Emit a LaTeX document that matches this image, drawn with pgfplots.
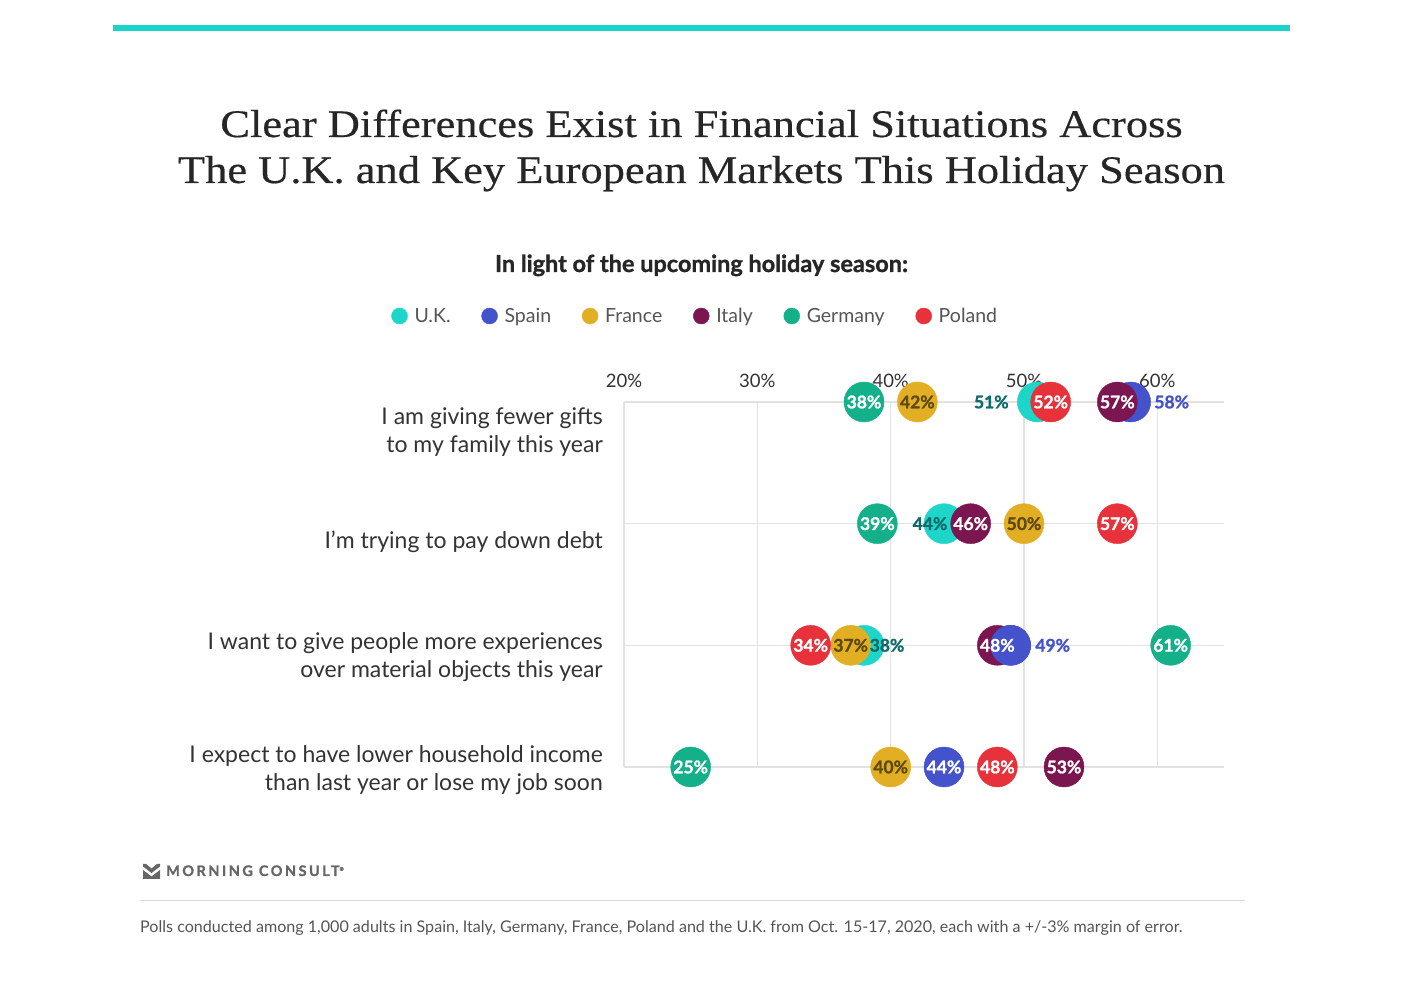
\documentclass[border=0pt]{standalone}
\usepackage{pgfplots}
\pgfplotsset{compat=1.18}
\usepackage{pgfplotstable}
\usepackage{fontspec}
\setmainfont{Lato}
\newfontfamily\titlefont{Liberation Serif}[FakeStretch=1.14, FakeBold=0.4]
\newfontfamily\heavy{Lato}[BoldFeatures={FakeBold=1.2}]
\definecolor{ukc}{HTML}{1DD5C8}
\definecolor{esc}{HTML}{4452CC}
\definecolor{frc}{HTML}{E2AF24}
\definecolor{itc}{HTML}{7C1650}
\definecolor{dec}{HTML}{13B08A}
\definecolor{plc}{HTML}{E7323C}
\definecolor{uklab}{HTML}{0E6C6A}
\definecolor{frlab}{HTML}{5E4A0E}
\definecolor{txt}{HTML}{333333}
\definecolor{legtxt}{HTML}{555555}
\definecolor{gridc}{HTML}{E2E2E2}
\definecolor{topbar}{HTML}{1CD3C9}
\definecolor{logoc}{HTML}{666666}

% y: 1 = fewer gifts, 2 = pay down debt, 3 = experiences, 4 = lower income
\pgfplotstableread{
x y dx
51 1 -46
44 2 -14
38 3 23
}\dataUK
\pgfplotstableread{
x y dx
58 1 41
49 3 42
44 4 0
}\dataES
\pgfplotstableread{
x y
42 1
50 2
37 3
40 4
}\dataFR
\pgfplotstableread{
x y
57 1
46 2
48 3
53 4
}\dataIT
\pgfplotstableread{
x y
38 1
39 2
61 3
25 4
}\dataDE
\pgfplotstableread{
x y
52 1
57 2
34 3
48 4
}\dataPL

\pgfplotsset{
  /pgf/number format/assume math mode=true,
  circ/.style={only marks, mark=*, mark size=20pt,
    mark options={draw=none, fill=#1}, color=#1,
    legend image code/.code={\draw[##1, mark size=8pt] plot coordinates {(0pt,0pt)};}},
  lab/.style={draw=none, mark=none, forget plot, point meta=x,
    nodes near coords={\pgfmathprintnumber{\pgfplotspointmeta}\%},
    every node near coord/.append style={anchor=center, text=#1, inner sep=0pt,
      font=\heavy\bfseries\fontsize{17.5}{18}\selectfont}},
  shiftlab/.style={visualization depends on={\thisrow{dx} \as \dx},
    every node near coord/.append style={xshift=\dx}},
}

\begin{document}
\begin{tikzpicture}[x=1pt,y=1pt]
\fill[white] (0,0) rectangle (1403,992);
\useasboundingbox (0,0) rectangle (1403,992);
\fill[topbar] (113,961) rectangle (1290,967);
\node[anchor=base, font=\titlefont\fontsize{39}{39}\selectfont, text=black!85] at (701.5,855) {Clear Differences Exist in Financial Situations Across};
\node[anchor=base, font=\titlefont\fontsize{39}{39}\selectfont, text=black!85] at (701.5,809) {The U.K. and Key European Markets This Holiday Season};
\node[anchor=base, font=\heavy\bfseries\fontsize{23.5}{24}\selectfont, text=black!85] at (701.5,720) {In light of the upcoming holiday season:};

\begin{axis}[
  at={(624pt,225pt)}, anchor=south west, scale only axis,
  width=600pt, height=365pt,
  xmin=20, xmax=65, ymin=1, ymax=4, y dir=reverse, clip=false,
  axis line style={draw=none}, major tick length=0pt,
  xtick={20,30,40,50,60}, ytick={1,2,3,4}, yticklabels={},
  xmajorgrids, ymajorgrids, grid style={draw=gridc, line width=1.2pt},
  xticklabel pos=right,
  xticklabel={\pgfmathprintnumber{\tick}\%},
  xticklabel style={font=\fontsize{18.5}{19}\selectfont, text=txt, yshift=11pt},
  legend columns=6,
  legend style={draw=none, fill=none, at={(0.123,1.2356)}, anchor=center,
    font=\color{legtxt}\fontsize{19.5}{20}\selectfont,
    /tikz/every even column/.append style={column sep=24pt},
    nodes={inner xsep=7pt}},
]
\addplot[circ=ukc] table[x=x,y=y] {\dataUK}; \addlegendentry{U.K.}
\addplot[circ=esc] table[x=x,y=y] {\dataES}; \addlegendentry{Spain}
\addplot[circ=frc] table[x=x,y=y] {\dataFR}; \addlegendentry{France}
\addplot[circ=itc] table[x=x,y=y] {\dataIT}; \addlegendentry{Italy}
\addplot[circ=dec] table[x=x,y=y] {\dataDE}; \addlegendentry{Germany}
\addplot[circ=plc] table[x=x,y=y] {\dataPL}; \addlegendentry{Poland}
% Spain lies on top of Italy in the third row
\addplot[circ=esc, forget plot, restrict expr to domain={\thisrow{y}}{3:3}] table[x=x,y=y] {\dataES};
% value labels
\addplot[lab=uklab, shiftlab] table[x=x,y=y] {\dataUK};
\addplot[lab=esc, shiftlab, restrict expr to domain={\thisrow{dx}}{1:100}] table[x=x,y=y] {\dataES};
\addplot[lab=white, restrict expr to domain={\thisrow{dx}}{-1:0.5}] table[x=x,y=y] {\dataES};
\addplot[lab=frlab] table[x=x,y=y] {\dataFR};
\addplot[lab=white] table[x=x,y=y] {\dataIT};
\addplot[lab=white] table[x=x,y=y] {\dataDE};
\addplot[lab=white] table[x=x,y=y] {\dataPL};
\end{axis}

\begin{scope}[font=\fontsize{23}{28}\selectfont, text=txt]
\node[anchor=east, align=right, inner sep=0pt] at (603,560) {I am giving fewer gifts\\to my family this year};
\node[anchor=east, align=right, inner sep=0pt] at (603,450) {I'm trying to pay down debt};
\node[anchor=east, align=right, inner sep=0pt] at (603,335) {I want to give people more experiences\\over material objects this year};
\node[anchor=east, align=right, inner sep=0pt] at (603,222) {I expect to have lower household income\\than last year or lose my job soon};
\end{scope}

% logo
\fill[logoc] (143,128) -- (146,128) -- (151.5,123.5) -- (157,128) -- (160,128) -- (160,125.5) -- (151.5,119) -- (143,125.5) -- cycle;
\fill[logoc] (143,122) -- (151.5,115.5) -- (160,122) -- (160,113) -- (143,113) -- cycle;
\node[anchor=base west, inner sep=0pt, text=logoc, font=\heavy\bfseries\fontsize{14.5}{15}\selectfont\addfontfeature{LetterSpace=17}] at (166,116) {MORNING CONSULT\textsuperscript{\fontsize{5}{5}\selectfont ®}};
\draw[black!15, line width=1pt] (140,91) -- (1245,91);
\node[anchor=base west, inner sep=0pt, text=legtxt, font=\fontsize{16.1}{17}\selectfont] at (140,59) {Polls conducted among 1,000 adults in Spain, Italy, Germany, France, Poland and the U.K. from Oct. 15-17, 2020, each with a +/-3\% margin of error.};
\end{tikzpicture}
\end{document}
